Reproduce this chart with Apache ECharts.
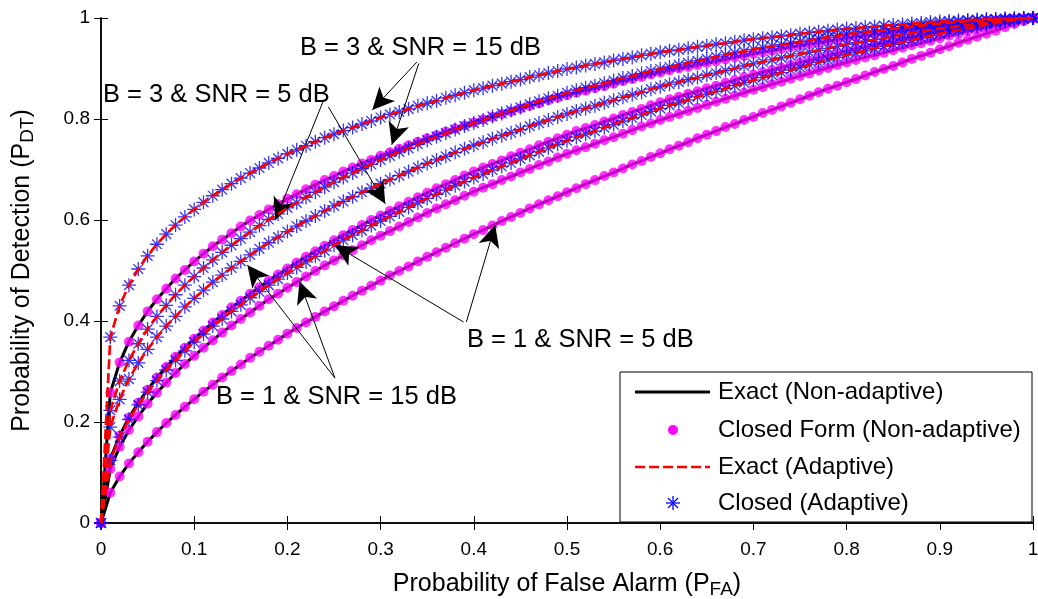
<!DOCTYPE html>
<html>
<head>
<meta charset="utf-8">
<script src="https://cdn.jsdelivr.net/npm/echarts@6/dist/echarts.min.js"></script>
<style>html,body{margin:0;padding:0;background:#fff;}#c{width:1038px;height:599px;}</style>
</head>
<body>
<div id="c"></div>
<script>
// ---------- DATA ----------
const pfa = [0,0.01,0.02,0.03,0.04,0.05,0.06,0.07,0.08,0.09,0.1,
0.11,0.12,0.13,0.14,0.15,0.16,0.17,0.18,0.19,0.2,
0.21,0.22,0.23,0.24,0.25,0.26,0.27,0.28,0.29,0.3,
0.31,0.32,0.33,0.34,0.35,0.36,0.37,0.38,0.39,0.4,
0.41,0.42,0.43,0.44,0.45,0.46,0.47,0.48,0.49,0.5,
0.51,0.52,0.53,0.54,0.55,0.56,0.57,0.58,0.59,0.6,
0.61,0.62,0.63,0.64,0.65,0.66,0.67,0.68,0.69,0.7,
0.71,0.72,0.73,0.74,0.75,0.76,0.77,0.78,0.79,0.8,
0.81,0.82,0.83,0.84,0.85,0.86,0.87,0.88,0.89,0.9,
0.91,0.92,0.93,0.94,0.95,0.96,0.97,0.98,0.99,1];

// B = 3, SNR = 15 dB (adaptive)
const pdB3S15Adaptive = [0,0.368,0.430,0.471,0.503,0.529,0.552,0.572,0.590,0.606,0.621,
0.635,0.648,0.660,0.672,0.683,0.693,0.703,0.713,0.722,0.731,
0.739,0.747,0.755,0.763,0.770,0.777,0.783,0.790,0.796,0.803,
0.809,0.814,0.820,0.826,0.831,0.836,0.842,0.847,0.852,0.857,
0.861,0.866,0.870,0.874,0.878,0.883,0.887,0.891,0.895,0.899,
0.902,0.906,0.909,0.912,0.916,0.919,0.922,0.926,0.929,0.932,
0.935,0.937,0.940,0.943,0.945,0.948,0.950,0.953,0.956,0.958,
0.960,0.962,0.964,0.966,0.969,0.971,0.973,0.975,0.977,0.979,
0.980,0.982,0.983,0.985,0.986,0.987,0.989,0.990,0.992,0.993,
0.994,0.995,0.996,0.997,0.998,0.998,0.999,0.999,1.000,1];
// B = 3, SNR = 15 dB (non-adaptive)
const pdB3S15NonAdaptive = [0,0.258,0.318,0.359,0.391,0.419,0.443,0.464,0.484,0.501,0.518,
0.533,0.548,0.561,0.574,0.587,0.599,0.610,0.621,0.631,0.642,
0.651,0.661,0.670,0.679,0.687,0.696,0.704,0.712,0.719,0.727,
0.734,0.741,0.748,0.755,0.762,0.768,0.775,0.781,0.787,0.793,
0.799,0.804,0.810,0.815,0.821,0.826,0.831,0.837,0.842,0.847,
0.852,0.856,0.861,0.865,0.870,0.875,0.879,0.883,0.888,0.892,
0.896,0.900,0.903,0.907,0.911,0.914,0.918,0.922,0.925,0.929,
0.932,0.935,0.939,0.942,0.945,0.948,0.951,0.954,0.957,0.960,
0.963,0.965,0.968,0.970,0.973,0.975,0.978,0.980,0.983,0.985,
0.987,0.989,0.991,0.992,0.994,0.995,0.997,0.998,0.999,1];
// B = 3, SNR = 5 dB (adaptive)
const pdB3S5Adaptive = [0,0.223,0.281,0.322,0.355,0.384,0.409,0.431,0.452,0.471,0.488,
0.505,0.521,0.536,0.550,0.563,0.576,0.589,0.601,0.612,0.624,
0.634,0.645,0.655,0.665,0.675,0.684,0.693,0.702,0.710,0.719,
0.727,0.735,0.742,0.750,0.758,0.765,0.772,0.779,0.786,0.792,
0.798,0.805,0.811,0.817,0.823,0.829,0.835,0.841,0.846,0.852,
0.857,0.862,0.866,0.871,0.876,0.881,0.885,0.890,0.895,0.899,
0.903,0.907,0.911,0.915,0.919,0.923,0.927,0.931,0.934,0.938,
0.941,0.944,0.947,0.950,0.953,0.956,0.959,0.962,0.965,0.968,
0.970,0.972,0.974,0.976,0.979,0.981,0.983,0.985,0.987,0.989,
0.991,0.992,0.994,0.995,0.996,0.997,0.998,0.999,1.000,1];
// B = 3, SNR = 5 dB (non-adaptive)
const pdB3S5NonAdaptive = [0,0.127,0.173,0.209,0.238,0.264,0.288,0.309,0.329,0.347,0.365,
0.381,0.397,0.412,0.427,0.440,0.454,0.467,0.480,0.492,0.504,
0.516,0.527,0.538,0.549,0.560,0.570,0.580,0.590,0.600,0.609,
0.618,0.627,0.636,0.645,0.654,0.663,0.671,0.679,0.688,0.696,
0.704,0.711,0.718,0.726,0.733,0.740,0.748,0.755,0.762,0.769,
0.776,0.782,0.788,0.795,0.801,0.808,0.814,0.820,0.827,0.833,
0.839,0.844,0.850,0.855,0.861,0.866,0.872,0.877,0.883,0.888,
0.893,0.897,0.902,0.907,0.912,0.916,0.921,0.926,0.930,0.935,
0.939,0.943,0.947,0.951,0.955,0.959,0.962,0.966,0.970,0.974,
0.977,0.980,0.983,0.986,0.989,0.992,0.994,0.996,0.998,1];
// B = 1, SNR = 15 dB (adaptive)
const pdB1S15Adaptive = [0,0.190,0.245,0.285,0.317,0.344,0.368,0.390,0.409,0.428,0.445,
0.461,0.477,0.491,0.505,0.518,0.531,0.543,0.555,0.566,0.577,
0.588,0.598,0.608,0.618,0.628,0.637,0.646,0.655,0.663,0.672,
0.680,0.688,0.696,0.704,0.712,0.719,0.726,0.734,0.741,0.748,
0.754,0.761,0.767,0.773,0.779,0.786,0.792,0.798,0.804,0.810,
0.816,0.821,0.826,0.832,0.837,0.843,0.848,0.853,0.859,0.864,
0.869,0.873,0.878,0.882,0.887,0.891,0.896,0.900,0.905,0.909,
0.913,0.917,0.921,0.925,0.929,0.932,0.936,0.940,0.944,0.948,
0.951,0.954,0.957,0.960,0.964,0.967,0.970,0.973,0.976,0.979,
0.981,0.984,0.986,0.989,0.991,0.993,0.995,0.997,0.999,1];
// B = 1, SNR = 15 dB (non-adaptive)
const pdB1S15NonAdaptive = [0,0.107,0.151,0.184,0.211,0.236,0.258,0.278,0.297,0.315,0.331,
0.347,0.362,0.377,0.391,0.404,0.417,0.430,0.443,0.454,0.466,
0.477,0.488,0.499,0.510,0.520,0.530,0.540,0.550,0.560,0.569,
0.578,0.587,0.596,0.605,0.614,0.623,0.631,0.639,0.648,0.656,
0.664,0.671,0.679,0.686,0.694,0.701,0.709,0.716,0.724,0.731,
0.738,0.744,0.751,0.758,0.764,0.771,0.778,0.785,0.791,0.798,
0.804,0.810,0.816,0.822,0.828,0.834,0.840,0.846,0.852,0.858,
0.863,0.869,0.874,0.880,0.885,0.890,0.896,0.901,0.907,0.912,
0.917,0.922,0.926,0.931,0.936,0.941,0.946,0.950,0.955,0.960,
0.965,0.969,0.974,0.978,0.982,0.986,0.989,0.993,0.996,1];
// B = 1, SNR = 5 dB (adaptive)
const pdB1S5Adaptive = [0,0.124,0.170,0.205,0.234,0.259,0.282,0.303,0.322,0.341,0.358,
0.374,0.390,0.404,0.419,0.432,0.446,0.458,0.471,0.483,0.495,
0.506,0.517,0.528,0.539,0.550,0.560,0.570,0.579,0.589,0.598,
0.607,0.616,0.625,0.634,0.643,0.651,0.659,0.668,0.676,0.684,
0.691,0.699,0.706,0.713,0.721,0.728,0.735,0.743,0.750,0.757,
0.764,0.770,0.776,0.783,0.789,0.796,0.802,0.808,0.815,0.821,
0.827,0.832,0.838,0.844,0.849,0.855,0.860,0.866,0.872,0.877,
0.882,0.887,0.892,0.897,0.902,0.907,0.912,0.917,0.922,0.927,
0.931,0.935,0.940,0.944,0.948,0.952,0.956,0.961,0.965,0.969,
0.973,0.976,0.980,0.983,0.987,0.990,0.993,0.995,0.998,1];
// B = 1, SNR = 5 dB (non-adaptive)
const pdB1S5NonAdaptive = [0,0.060,0.092,0.118,0.140,0.161,0.180,0.198,0.214,0.230,0.245,
0.260,0.274,0.288,0.301,0.314,0.327,0.339,0.351,0.363,0.375,
0.386,0.397,0.408,0.419,0.429,0.440,0.450,0.460,0.470,0.480,
0.490,0.499,0.508,0.518,0.527,0.536,0.545,0.554,0.563,0.572,
0.580,0.589,0.598,0.606,0.614,0.623,0.631,0.639,0.647,0.655,
0.663,0.671,0.679,0.687,0.694,0.702,0.710,0.717,0.725,0.732,
0.740,0.747,0.754,0.762,0.769,0.776,0.784,0.790,0.798,0.804,
0.812,0.818,0.825,0.832,0.839,0.846,0.853,0.860,0.866,0.873,
0.879,0.886,0.893,0.899,0.905,0.912,0.919,0.925,0.931,0.938,
0.944,0.951,0.957,0.963,0.969,0.975,0.982,0.988,0.994,1];

const xTickLabels = ['0','0.1','0.2','0.3','0.4','0.5','0.6','0.7','0.8','0.9','1'];
const yTickLabels = ['0','0.2','0.4','0.6','0.8','1'];

const nonAdaptiveCurves = [pdB3S15NonAdaptive, pdB3S5NonAdaptive, pdB1S15NonAdaptive, pdB1S5NonAdaptive];
const adaptiveCurves = [pdB3S15Adaptive, pdB3S5Adaptive, pdB1S15Adaptive, pdB1S5Adaptive];

const legendNames = ['Exact (Non-adaptive)', 'Closed Form (Non-adaptive)', 'Exact (Adaptive)', 'Closed (Adaptive)'];

// annotation texts and arrows (arrows in data coordinates: [from], [to])
const annotations = [
  {text: 'B = 3 & SNR = 15 dB', x: 300, y: 48},
  {text: 'B = 3 & SNR = 5 dB', x: 103, y: 95},
  {text: 'B = 1 & SNR = 5 dB', x: 467, y: 340},
  {text: 'B = 1 & SNR = 15 dB', x: 216, y: 397}
];
const arrows = [
  [[0.339, 0.913], [0.291, 0.818]],
  [[0.341, 0.910], [0.312, 0.749]],
  [[0.239, 0.838], [0.187, 0.600]],
  [[0.244, 0.824], [0.305, 0.632]],
  [[0.389, 0.398], [0.251, 0.550]],
  [[0.392, 0.398], [0.423, 0.590]],
  [[0.251, 0.287], [0.157, 0.511]],
  [[0.251, 0.287], [0.213, 0.478]]
];

// ---------- CHART ----------
const FONT = 'Liberation Sans, Arial, sans-serif';
const STAR = 'path://M10 0 L10 20 M0 10 L20 10 M3 3 L17 17 M17 3 L3 17';
const pairs = arr => pfa.map((x, i) => [x, arr[i]]);

const series = [];
nonAdaptiveCurves.forEach(c => series.push({
  name: legendNames[0], type: 'line', data: pairs(c), showSymbol: false, z: 2,
  lineStyle: {color: '#000', width: 3}, silent: true
}));
nonAdaptiveCurves.forEach(c => series.push({
  name: legendNames[1], type: 'scatter', data: pairs(c), symbol: 'circle', symbolSize: 10, z: 3,
  itemStyle: {color: '#FF00FF'}, silent: true
}));
adaptiveCurves.forEach(c => series.push({
  name: legendNames[3], type: 'scatter', data: pairs(c), symbol: STAR, symbolSize: 14, z: 4,
  itemStyle: {color: 'rgba(0,0,0,0)', borderColor: '#0000FF', borderWidth: 1.3}, silent: true
}));
adaptiveCurves.forEach(c => series.push({
  name: legendNames[2], type: 'line', data: pairs(c), showSymbol: false, z: 5,
  lineStyle: {color: '#FF0000', width: 2.7, type: [10, 4]}, silent: true
}));
series.push({
  type: 'line', data: [], z: 6, silent: true,
  markLine: {
    silent: true, animation: false,
    symbol: ['none', 'arrow'], symbolSize: [16, 22],
    label: {show: false},
    lineStyle: {color: '#000', width: 1, type: 'solid'},
    data: arrows.map(a => [{coord: a[0]}, {coord: a[1]}])
  }
});

const axisCommon = {
  type: 'value', min: 0, max: 1,
  axisLine: {show: true, lineStyle: {color: '#000', width: 1.5}},
  axisTick: {show: true, inside: true, length: 7, lineStyle: {color: '#000', width: 1}},
  splitLine: {show: false}
};

const legendGraphic = [];
const LX = 620, LY = 372, LW = 412, LH = 150;
legendGraphic.push({type: 'rect', z: 100, shape: {x: LX, y: LY, width: LW, height: LH},
  style: {fill: '#fff', stroke: '#000', lineWidth: 1}});
const rowY = [392, 430, 467, 503];
legendGraphic.push({type: 'line', z: 101, shape: {x1: 635, y1: rowY[0], x2: 710, y2: rowY[0]}, style: {stroke: '#000', lineWidth: 3}});
legendGraphic.push({type: 'circle', z: 101, shape: {cx: 673, cy: rowY[1], r: 5}, style: {fill: '#FF00FF'}});
legendGraphic.push({type: 'line', z: 101, shape: {x1: 635, y1: rowY[2], x2: 710, y2: rowY[2]}, style: {stroke: '#FF0000', lineWidth: 2.7, lineDash: [10, 4]}});
[[0, -7, 0, 7], [-7, 0, 7, 0], [-5, -5, 5, 5], [5, -5, -5, 5]].forEach(s =>
  legendGraphic.push({type: 'line', z: 101,
    shape: {x1: 673 + s[0], y1: rowY[3] + s[1], x2: 673 + s[2], y2: rowY[3] + s[3]},
    style: {stroke: '#0000FF', lineWidth: 1.3}}));
legendNames.forEach((n, i) => legendGraphic.push({type: 'text', z: 101, x: 718, y: rowY[i],
  style: {text: n, fontSize: 24, fontFamily: FONT, fill: '#000', verticalAlign: 'middle'}}));

const annGraphic = annotations.map(a => ({type: 'text', z: 50, x: a.x, y: a.y,
  style: {text: a.text, fontSize: 25.5, fontFamily: FONT, fill: '#000', verticalAlign: 'middle'}}));

const richName = {
  m: {fontSize: 25, fontFamily: FONT, color: '#000', lineHeight: 27, verticalAlign: 'top'},
  s: {fontSize: 19, fontFamily: FONT, color: '#000', lineHeight: 19, padding: [16, 0, 0, 0], verticalAlign: 'bottom'}
};

const option = {
  animation: false,
  backgroundColor: '#fff',
  grid: {left: 101, right: 5, top: 18, bottom: 76, containLabel: false, outerBoundsMode: 'none'},
  xAxis: [
    Object.assign({}, axisCommon, {
      position: 'bottom', interval: 0.1,
      axisLabel: {color: '#000', fontSize: 19, fontFamily: FONT, margin: 17,
        formatter: v => xTickLabels[Math.round(v * 10)]},
      name: '{m|Probability of False Alarm (P}{s|FA}{m|)}',
      nameLocation: 'middle', nameGap: 40,
      nameTextStyle: {rich: richName}
    }),
    Object.assign({}, axisCommon, {position: 'top', interval: 0.1, axisLabel: {show: false}})
  ],
  yAxis: [
    Object.assign({}, axisCommon, {
      position: 'left', interval: 0.2,
      axisLabel: {color: '#000', fontSize: 19, fontFamily: FONT, margin: 11,
        formatter: v => yTickLabels[Math.round(v * 5)]},
      name: '{m|Probability of Detection (P}{s|DT}{m|)}',
      nameLocation: 'middle', nameGap: 64,
      nameTextStyle: {rich: richName}
    }),
    Object.assign({}, axisCommon, {position: 'right', interval: 0.2, axisLabel: {show: false}})
  ],
  series: series,
  graphic: annGraphic.concat(legendGraphic)
};

const chart = echarts.init(document.getElementById('c'), null, {renderer: 'canvas'});
chart.setOption(option);
</script>
</body>
</html>
